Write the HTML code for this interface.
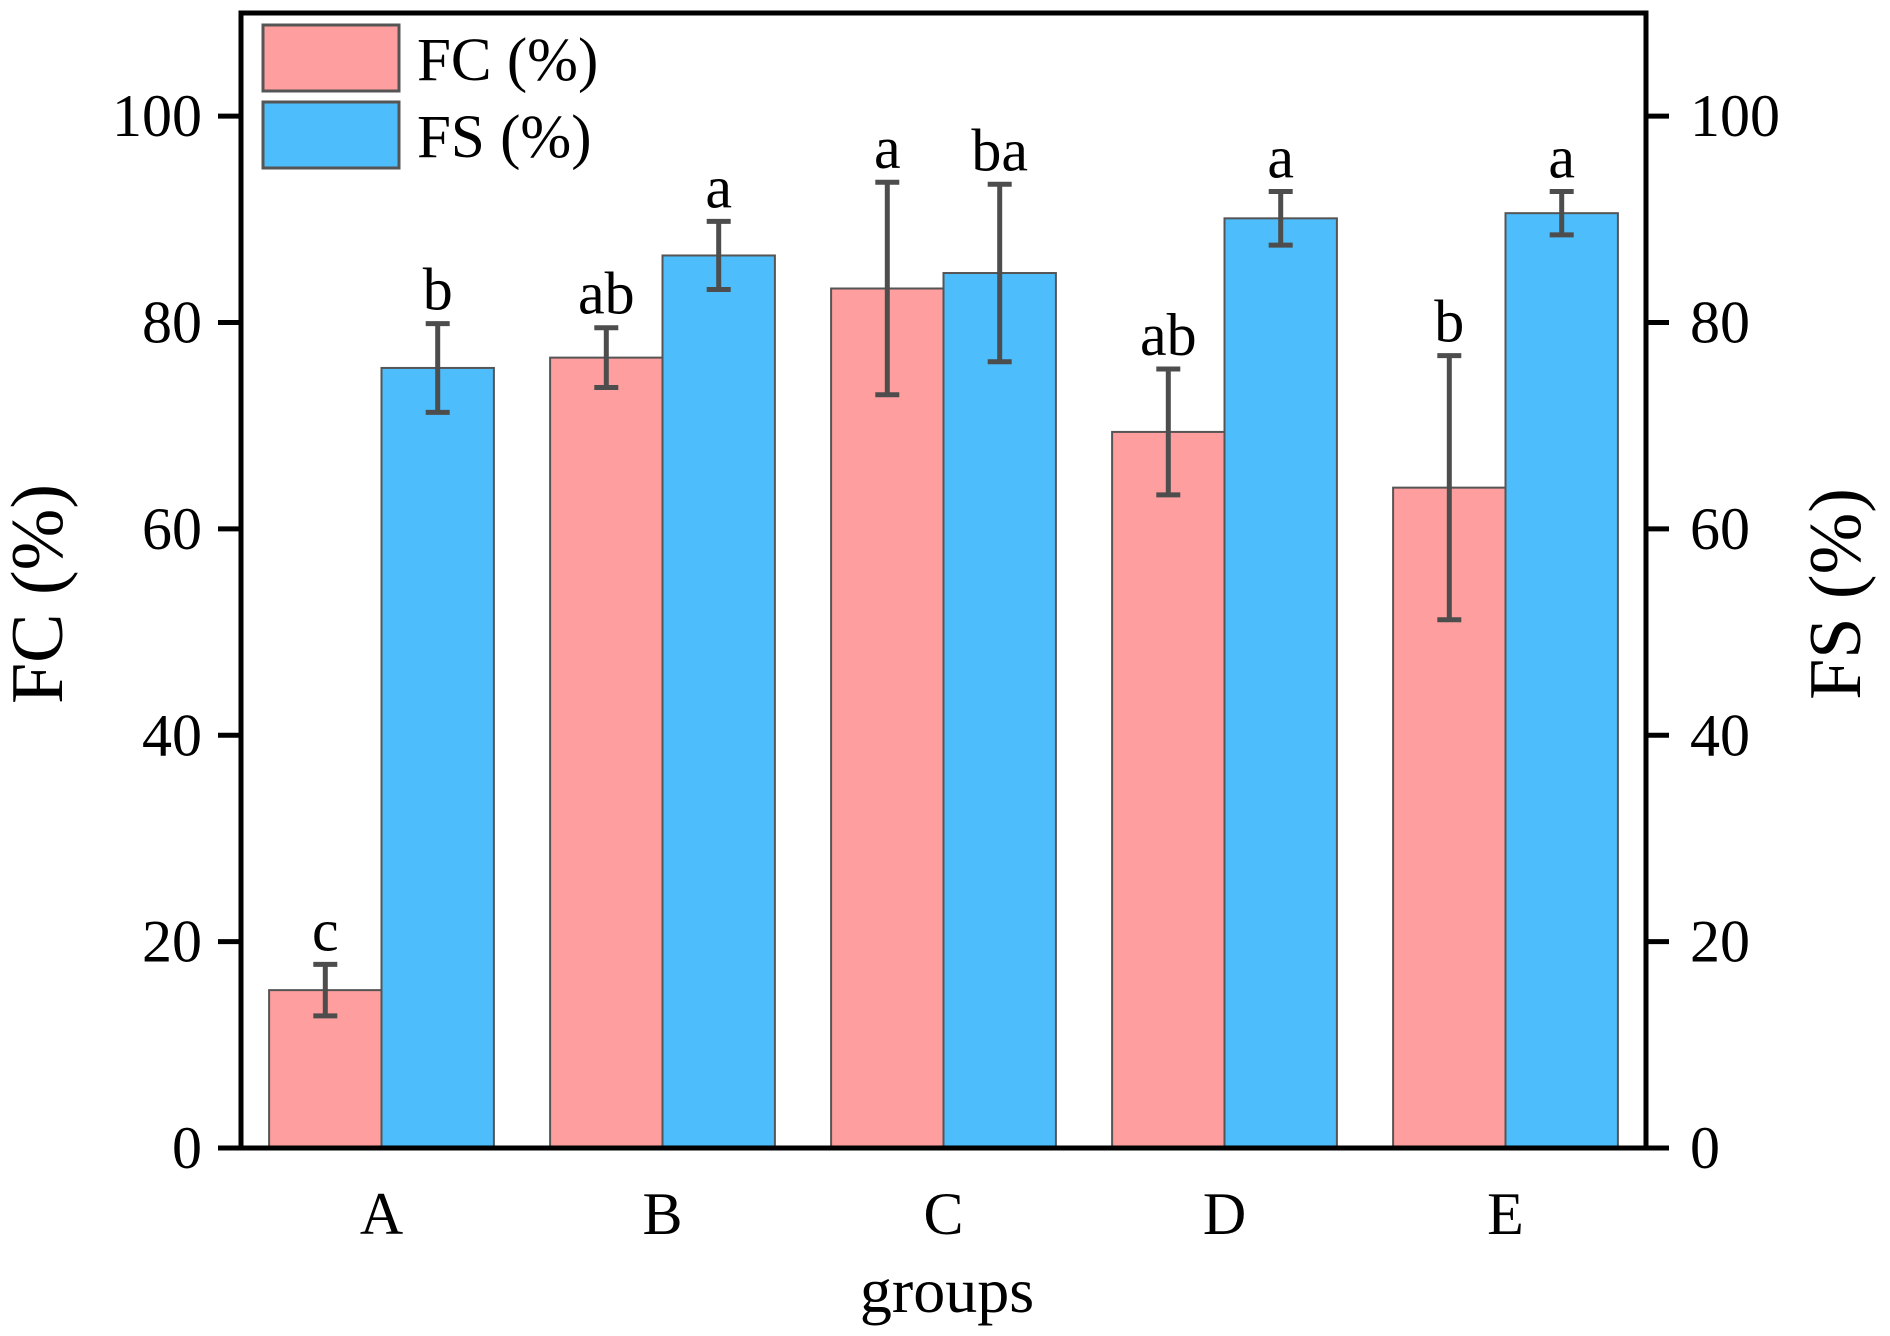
<!DOCTYPE html>
<html><head><meta charset="utf-8"><style>
html,body{margin:0;padding:0;background:#fff}
svg{display:block;font-family:"Liberation Serif",serif}
</style></head><body>
<svg id="chart" width="1890" height="1336" viewBox="0 0 1890 1336">
<g id="plot"></g>
</svg>
<script>
const categories=["A","B","C","D","E"];
const fcValues=[15.3,76.6,83.3,69.4,64.0];
const fcErrors=[2.5,2.9,10.3,6.1,12.8];
const fcLetters=["c","ab","a","ab","b"];
const fsValues=[75.6,86.5,84.8,90.1,90.6];
const fsErrors=[4.3,3.3,8.6,2.6,2.1];
const fsLetters=["b","a","ba","a","a"];
const yTicks=[0,20,40,60,80,100];

const NS="http://www.w3.org/2000/svg";
const g=document.getElementById("plot");
const L=241,R=1646,T=13,B=1148,YMAX=110;
const y=v=>B-(B-T)*v/YMAX;
const band=(R-L)/categories.length;
const xc=i=>L+band*(i+0.5);
const bw=band*0.4;
function mk(tag,attrs,text){const e=document.createElementNS(NS,tag);for(const k in attrs)e.setAttribute(k,attrs[k]);if(text!==undefined)e.textContent=text;g.appendChild(e);return e;}

categories.forEach((c,i)=>{
  const series=[[fcValues,fcErrors,fcLetters,"#ff9e9e",-1,"fc"],[fsValues,fsErrors,fsLetters,"#4dbdfc",0,"fs"]];
  series.forEach(([vals,errs,lets,col,off,nm])=>{
    const x0=xc(i)+off*bw;
    const r=mk("rect",{x:x0,y:y(vals[i]),width:bw,height:B-y(vals[i]),fill:col,stroke:"#555",'stroke-width':2});
    
    
    const cx=x0+bw/2,hi=y(vals[i]+errs[i]),lo=y(vals[i]-errs[i]);
    const eb=mk("path",{d:`M${cx},${hi}V${lo}M${cx-12},${hi}H${cx+12}M${cx-12},${lo}H${cx+12}`,stroke:"#4d4d4d",'stroke-width':5,fill:"none"});
    
    
    const t=mk("text",{x:cx,y:hi-14,'text-anchor':'middle','font-size':60},lets[i]);
    
    
  });
  const xl=mk("text",{x:xc(i),y:1234,'text-anchor':'middle','font-size':60},c);
  
  
});

yTicks.forEach(v=>{
  const tk=mk("path",{d:`M${L-23},${y(v)}H${L}M${R},${y(v)}H${R+23}`,stroke:"#000",'stroke-width':5});
  
  
  const a=mk("text",{x:202,y:y(v)+20,'text-anchor':'end','font-size':60},String(v));
  
  
  const b=mk("text",{x:1690,y:y(v)+20,'text-anchor':'start','font-size':60},String(v));
  
  
});

const frame=mk("rect",{x:L,y:T,width:R-L,height:B-T,fill:"none",stroke:"#000",'stroke-width':5});



const lg=[["#ff9e9e","FC (%)",25],["#4dbdfc","FS (%)",102]];
lg.forEach(([col,lab,yy],k)=>{
  const r=mk("rect",{x:263,y:yy,width:136,height:66,fill:col,stroke:"#555",'stroke-width':3});
  
  
  const t=mk("text",{x:417,y:yy+55,'font-size':61},lab);
  
  
});

const yt=mk("text",{x:0,y:0,'text-anchor':'middle','font-size':74,transform:'translate(62,594) rotate(-90)'},"FC (%)");


const yt2=mk("text",{x:0,y:0,'text-anchor':'middle','font-size':74,transform:'translate(1860,594) rotate(-90)'},"FS (%)");


const xt=mk("text",{x:947,y:1312,'text-anchor':'middle','font-size':64},"groups");


</script>
</body></html>
